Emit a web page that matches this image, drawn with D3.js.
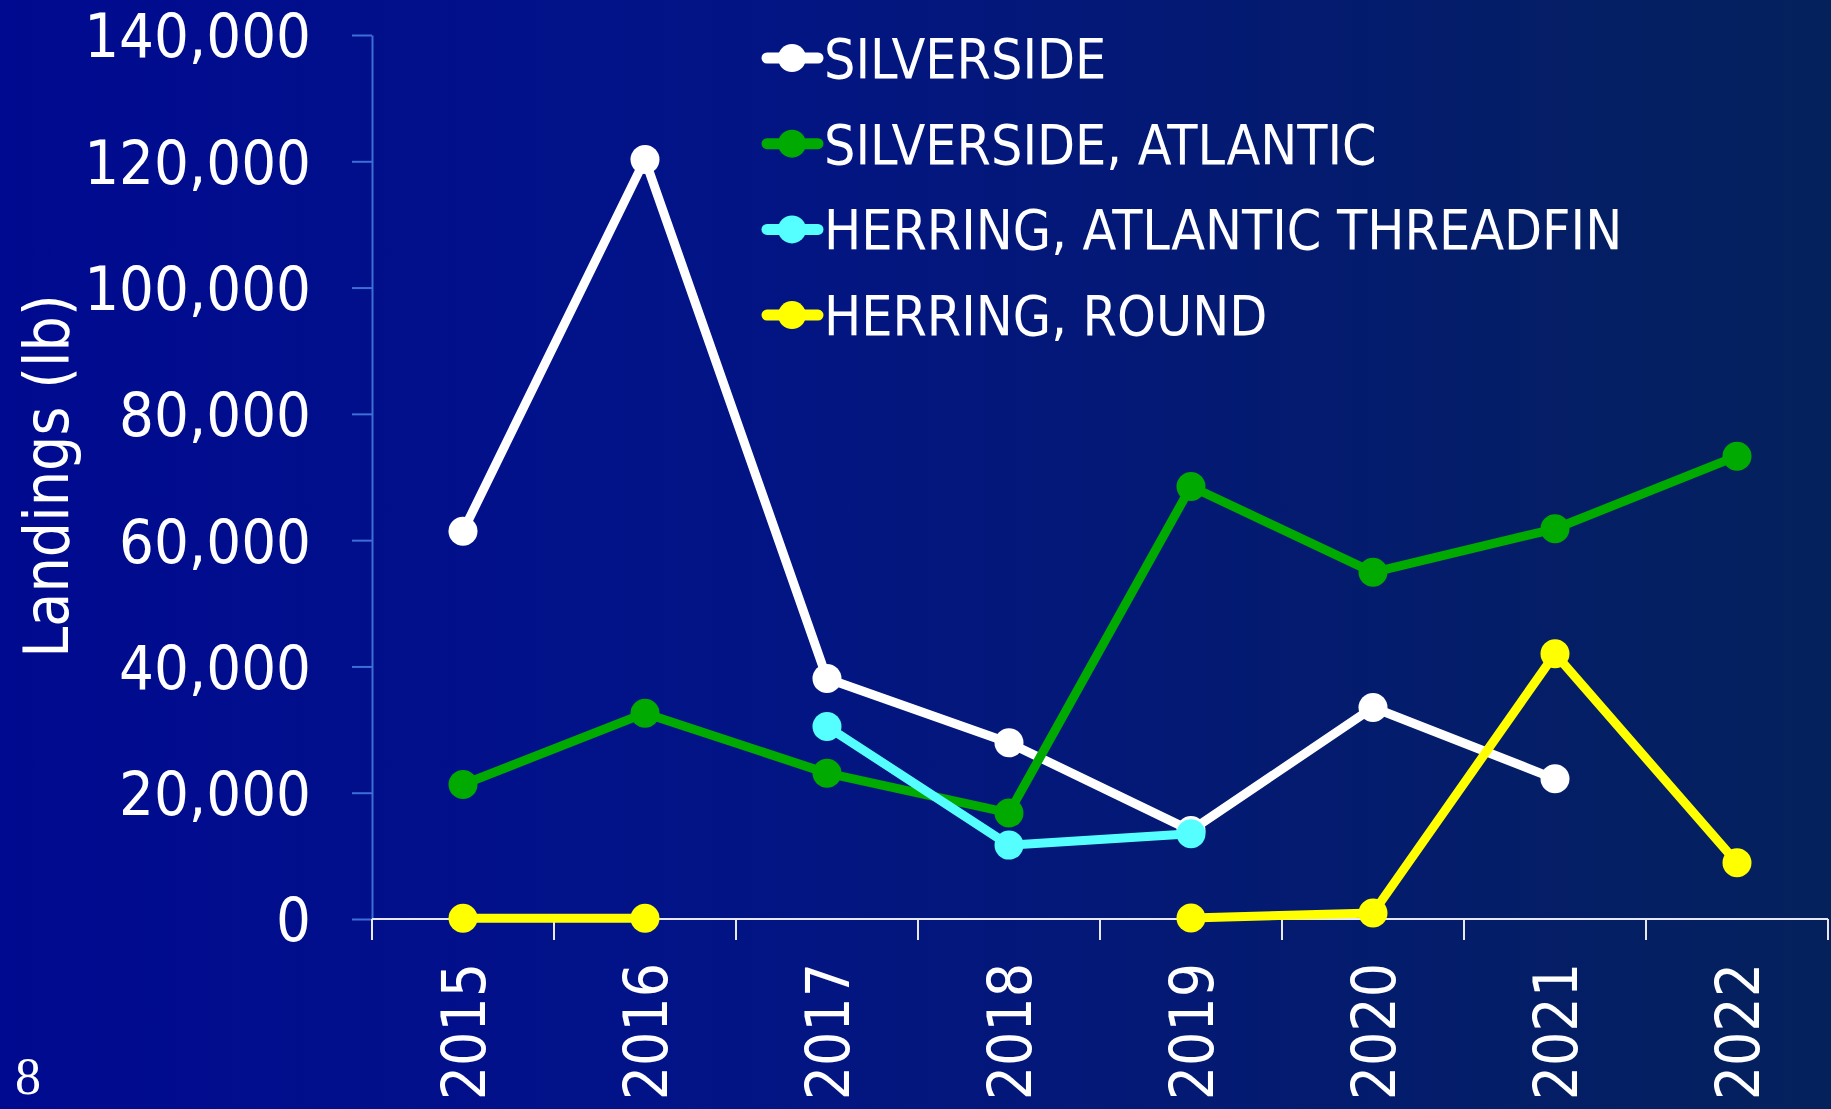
<!DOCTYPE html>
<html>
<head>
<meta charset="utf-8">
<script src="https://cdn.jsdelivr.net/npm/d3@7.9.0/dist/d3.min.js"></script>
<style>
  html, body { margin: 0; padding: 0; background: #000a8f; overflow: hidden; }
  svg { display: block; }
  text { font-family: "DejaVu Sans Condensed", "DejaVu Sans", sans-serif; font-stretch: condensed; fill: #fff; }
  text.slide-num { font-family: "Liberation Serif", "DejaVu Serif", serif; font-stretch: normal; }
</style>
</head>
<body>
<svg id="chart" width="1831" height="1109"></svg>
<script>
// chart data
const years = ['2015', '2016', '2017', '2018', '2019', '2020', '2021', '2022'];
const seriesNames = ['SILVERSIDE', 'SILVERSIDE, ATLANTIC', 'HERRING, ATLANTIC THREADFIN', 'HERRING, ROUND'];
const silverside = [61400, 120300, 38100, 27900, 14000, 33500, 22200, null];
const silversideAtlantic = [21300, 32600, 23100, 16800, 68500, 54900, 61800, 73300];
const herringThreadfin = [null, null, 30500, 11700, 13500, null, null, null];
const herringRound = [100, 100, null, null, 150, 950, 42000, 8900];
const yTicks = [0, 20000, 40000, 60000, 80000, 100000, 120000, 140000];
const seriesColors = ['#ffffff', '#00aa00', '#55ffff', '#ffff00'];

const series = [silverside, silversideAtlantic, herringThreadfin, herringRound];

const W = 1831, H = 1109;
const svg = d3.select('#chart');

// background gradient, deep blue to navy
const grad = svg.append('defs').append('linearGradient')
  .attr('id', 'bg').attr('x1', 0).attr('x2', 1).attr('y1', 0).attr('y2', 0);
grad.append('stop').attr('offset', '0%').attr('stop-color', '#000a90');
grad.append('stop').attr('offset', '35%').attr('stop-color', '#021388');
grad.append('stop').attr('offset', '100%').attr('stop-color', '#05215c');
svg.append('rect').attr('width', W).attr('height', H).attr('fill', 'url(#bg)');

// scales
const x = d3.scaleBand().domain(years).range([372, 1828]).padding(0);
const y = d3.scaleLinear().domain([0, 140000]).range([919, 35]);
const cx = d => x(d) + x.bandwidth() / 2;

// y axis
const yAxis = svg.append('g')
  .attr('transform', 'translate(372,0)')
  .call(d3.axisLeft(y).tickValues(yTicks).tickFormat(d3.format(',')).tickSize(20).tickSizeOuter(0).tickPadding(41));
yAxis.select('.domain').attr('stroke', '#3d6fd6').attr('stroke-width', 2);
yAxis.selectAll('.tick line').attr('stroke', '#3d6fd6').attr('stroke-width', 2);
yAxis.selectAll('.tick text')
  .attr('fill', '#fff').attr('font-size', 61).attr('dy', '0.36em')
  .style('font-family', '"DejaVu Sans Condensed", "DejaVu Sans", sans-serif');

// x axis: line, boundary ticks, rotated labels
const xAxis = svg.append('g').attr('transform', 'translate(0,919)');
xAxis.append('line').attr('x1', 372).attr('x2', 1828).attr('stroke', '#e8e8f0').attr('stroke-width', 2);
xAxis.selectAll('line.tk').data(years.concat(['end'])).join('line')
  .attr('class', 'tk')
  .attr('x1', d => d === 'end' ? x.range()[1] : x(d))
  .attr('x2', d => d === 'end' ? x.range()[1] : x(d))
  .attr('y1', 0).attr('y2', 21)
  .attr('stroke', '#e8e8f0').attr('stroke-width', 2);
xAxis.selectAll('text').data(years).join('text')
  .attr('transform', d => `translate(${cx(d)},44) rotate(-90)`)
  .attr('text-anchor', 'end')
  .attr('dy', '0.36em')
  .attr('font-size', 60)
  .text(d => d);

// y axis title
svg.append('text')
  .attr('transform', 'translate(68,476) rotate(-90)')
  .attr('text-anchor', 'middle')
  .attr('font-size', 62)
  .text('Landings (lb)');

// lines with gaps for missing years
const line = d3.line()
  .defined(d => d.v != null)
  .x(d => cx(d.year))
  .y(d => y(d.v));

series.forEach((vals, i) => {
  const pts = years.map((year, j) => ({ year, v: vals[j] }));
  const g = svg.append('g');
  g.append('path')
    .attr('d', line(pts))
    .attr('fill', 'none')
    .attr('stroke', seriesColors[i])
    .attr('stroke-width', 9)
    .attr('stroke-linejoin', 'round');
  g.selectAll('circle').data(pts.filter(d => d.v != null)).join('circle')
    .attr('cx', d => cx(d.year))
    .attr('cy', d => y(d.v))
    .attr('r', 14.5)
    .attr('fill', seriesColors[i]);
});

// legend
const legend = svg.append('g');
seriesNames.forEach((name, i) => {
  const ly = 58 + i * 85.7;
  legend.append('line')
    .attr('x1', 767).attr('x2', 818).attr('y1', ly).attr('y2', ly)
    .attr('stroke', seriesColors[i]).attr('stroke-width', 11).attr('stroke-linecap', 'round');
  legend.append('circle').attr('cx', 792).attr('cy', ly).attr('r', 14).attr('fill', seriesColors[i]);
  legend.append('text')
    .attr('x', 824).attr('y', ly).attr('dy', '0.36em')
    .attr('font-size', 55)
    .text(name);
});

// slide number
svg.append('text')
  .attr('class', 'slide-num')
  .attr('x', 15).attr('y', 1094)
  .attr('font-size', 52)
  .text('8');
</script>
</body>
</html>
